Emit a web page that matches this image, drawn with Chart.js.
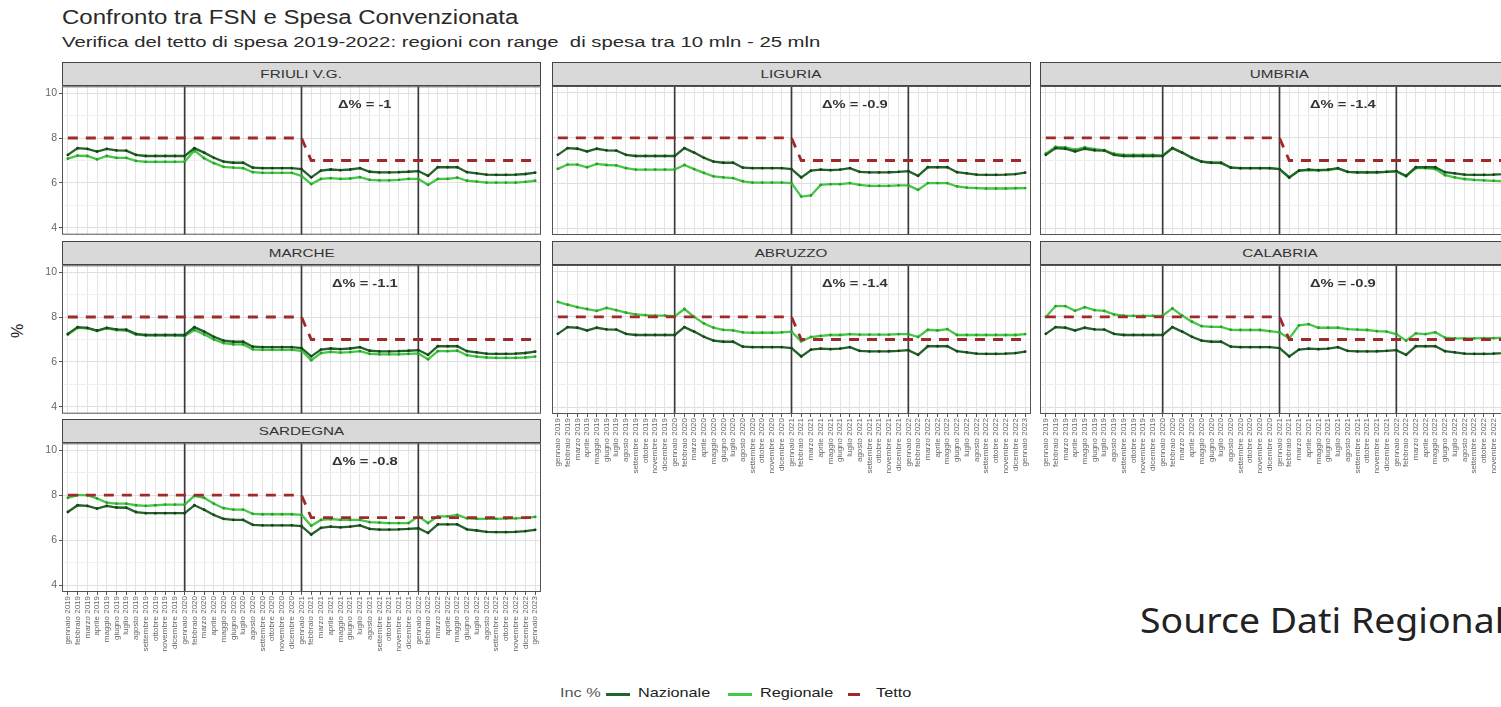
<!DOCTYPE html>
<html>
<head>
<meta charset="utf-8">
<script src="https://cdn.jsdelivr.net/npm/chart.js@4.4.1/dist/chart.umd.min.js"></script>
<style>
  html, body { margin: 0; padding: 0; background: #fff; overflow: hidden; }
  #page { position: relative; width: 1501px; height: 707px; overflow: hidden; font-family: "Liberation Sans", Arial, sans-serif; }
  .wide { display: inline-block; transform-origin: left center; white-space: pre; }
  .title { position: absolute; left: 62px; top: 6px; font-size: 20px; color: #2a2a2a; }
  .title .wide { transform: scaleX(1.2); }
  .subtitle { position: absolute; left: 62px; top: 34px; font-size: 14px; color: #2a2a2a; }
  .subtitle .wide { transform: scaleX(1.45); }
  .strip { position: absolute; height: 24px; background: #d9d9d9; border: 1px solid #444; box-sizing: border-box; text-align: center; font-size: 10.5px; color: #333; line-height: 22px; }
  .strip .wide { transform: scaleX(1.45); transform-origin: center center; }
  canvas { position: absolute; }
  .ylab { position: absolute; left: 11px; top: 322px; font-size: 16px; color: #222; transform: rotate(-90deg); }
  .source { position: absolute; left: 1140px; top: 597px; font-family: "Noto Sans", sans-serif; font-size: 34px; color: #222; white-space: nowrap; transform: scaleX(1.1); transform-origin: left center; }
  .leg { position: absolute; top: 685px; font-size: 13px; color: #222; white-space: nowrap; transform: scaleX(1.25); transform-origin: left center; }
  .sw { position: absolute; height: 3px; }
</style>
</head>
<body>
<div id="page">
  <div class="title"><span class="wide">Confronto tra FSN e Spesa Convenzionata</span></div>
  <div class="subtitle"><span class="wide">Verifica del tetto di spesa 2019-2022: regioni con range  di spesa tra 10 mln - 25 mln</span></div>
  <div class="ylab">%</div>
  <div class="source">Source Dati Regionali</div>
  <span class="leg" style="left:560px;color:#555">Inc %</span>
  <span class="sw" style="left:606px;top:693px;width:24px;background:#24632a"></span>
  <span class="leg" style="left:638px">Nazionale</span>
  <span class="sw" style="left:728px;top:693px;width:24px;background:#45c845"></span>
  <span class="leg" style="left:760px">Regionale</span>
  <span class="sw" style="left:848px;top:693px;width:12px;background:#9e2a2b"></span>
  <span class="leg" style="left:876px">Tetto</span>
</div>

<script>
// ---- data ----
const regions = ['FRIULI V.G.', 'LIGURIA', 'UMBRIA', 'MARCHE', 'ABRUZZO', 'CALABRIA', 'SARDEGNA'];
const deltaLabels = ['Δ% = -1', 'Δ% = -0.9', 'Δ% = -1.4', 'Δ% = -1.1', 'Δ% = -1.4', 'Δ% = -0.9', 'Δ% = -0.8'];

const monthLabels = [
    'gennaio 2019', 'febbraio 2019', 'marzo 2019', 'aprile 2019', 'maggio 2019', 'giugno 2019',
    'luglio 2019', 'agosto 2019', 'settembre 2019', 'ottobre 2019', 'novembre 2019', 'dicembre 2019',
    'gennaio 2020', 'febbraio 2020', 'marzo 2020', 'aprile 2020', 'maggio 2020', 'giugno 2020',
    'luglio 2020', 'agosto 2020', 'settembre 2020', 'ottobre 2020', 'novembre 2020', 'dicembre 2020',
    'gennaio 2021', 'febbraio 2021', 'marzo 2021', 'aprile 2021', 'maggio 2021', 'giugno 2021',
    'luglio 2021', 'agosto 2021', 'settembre 2021', 'ottobre 2021', 'novembre 2021', 'dicembre 2021',
    'gennaio 2022', 'febbraio 2022', 'marzo 2022', 'aprile 2022', 'maggio 2022', 'giugno 2022',
    'luglio 2022', 'agosto 2022', 'settembre 2022', 'ottobre 2022', 'novembre 2022', 'dicembre 2022',
    'gennaio 2023'
];
const yearBreaks = [12, 24, 36];
const yTickValues = [4, 6, 8, 10];

const nazionale = [7.25, 7.55, 7.52, 7.40, 7.52, 7.45, 7.44, 7.25, 7.20, 7.20, 7.20, 7.20,
    7.20, 7.55, 7.35, 7.12, 6.95, 6.90, 6.90, 6.68, 6.66, 6.66, 6.66, 6.66,
    6.62, 6.25, 6.55, 6.60, 6.57, 6.60, 6.66, 6.50, 6.47, 6.47, 6.48, 6.50,
    6.53, 6.32, 6.70, 6.70, 6.70, 6.48, 6.43, 6.37, 6.36, 6.36, 6.37, 6.40,
    6.46];

const tetto = [8, 8, 8, 8, 8, 8, 8, 8, 8, 8, 8, 8,
    8, 8, 8, 8, 8, 8, 8, 8, 8, 8, 8, 8,
    8, 7, 7, 7, 7, 7, 7, 7, 7, 7, 7, 7,
    7, 7, 7, 7, 7, 7, 7, 7, 7, 7, 7, 7,
    7];

const regFriuli = [7.08, 7.22, 7.20, 7.05, 7.20, 7.12, 7.12, 6.98, 6.94, 6.94, 6.94, 6.94,
    6.95, 7.45, 7.10, 6.88, 6.72, 6.68, 6.66, 6.48, 6.45, 6.45, 6.45, 6.45,
    6.32, 5.95, 6.18, 6.22, 6.18, 6.20, 6.26, 6.14, 6.12, 6.12, 6.14, 6.18,
    6.18, 5.92, 6.18, 6.18, 6.24, 6.10, 6.06, 6.02, 6.02, 6.02, 6.02, 6.05,
    6.10];
const regLiguria = [6.63, 6.82, 6.82, 6.70, 6.85, 6.80, 6.78, 6.66, 6.60, 6.60, 6.60, 6.60,
    6.60, 6.80, 6.62, 6.45, 6.30, 6.25, 6.22, 6.08, 6.02, 6.02, 6.02, 6.02,
    6.00, 5.40, 5.45, 5.92, 5.95, 5.95, 6.00, 5.92, 5.88, 5.88, 5.88, 5.90,
    5.90, 5.70, 6.00, 6.00, 6.00, 5.85, 5.80, 5.78, 5.76, 5.76, 5.76, 5.77,
    5.78];
const regUmbria = [7.30, 7.60, 7.58, 7.48, 7.58, 7.50, 7.46, 7.30, 7.25, 7.25, 7.25, 7.25,
    7.22, 7.55, 7.34, 7.12, 6.95, 6.90, 6.88, 6.68, 6.66, 6.66, 6.66, 6.66,
    6.62, 6.25, 6.55, 6.58, 6.56, 6.58, 6.64, 6.50, 6.48, 6.48, 6.48, 6.50,
    6.52, 6.30, 6.66, 6.66, 6.62, 6.35, 6.25, 6.18, 6.14, 6.12, 6.10, 6.08,
    6.08];
const regMarche = [7.22, 7.52, 7.50, 7.38, 7.50, 7.42, 7.40, 7.22, 7.18, 7.18, 7.18, 7.18,
    7.15, 7.42, 7.22, 7.00, 6.84, 6.78, 6.78, 6.56, 6.54, 6.54, 6.54, 6.54,
    6.50, 6.08, 6.40, 6.45, 6.42, 6.44, 6.48, 6.36, 6.34, 6.34, 6.34, 6.36,
    6.38, 6.12, 6.48, 6.48, 6.50, 6.30, 6.24, 6.20, 6.18, 6.18, 6.18, 6.20,
    6.24];
const regAbruzzo = [8.67, 8.54, 8.43, 8.35, 8.27, 8.40, 8.30, 8.19, 8.11, 8.08, 8.06, 8.06,
    8.03, 8.35, 8.00, 7.71, 7.52, 7.43, 7.40, 7.32, 7.30, 7.30, 7.30, 7.32,
    7.35, 6.92, 7.11, 7.16, 7.20, 7.20, 7.24, 7.22, 7.22, 7.22, 7.22, 7.24,
    7.24, 7.11, 7.43, 7.40, 7.46, 7.20, 7.20, 7.20, 7.20, 7.20, 7.20, 7.20,
    7.24];
const regCalabria = [8.00, 8.48, 8.48, 8.27, 8.43, 8.30, 8.27, 8.11, 8.06, 8.05, 8.05, 8.05,
    8.06, 8.38, 8.06, 7.79, 7.59, 7.56, 7.56, 7.43, 7.42, 7.42, 7.42, 7.37,
    7.32, 7.05, 7.63, 7.68, 7.52, 7.52, 7.52, 7.46, 7.44, 7.42, 7.37, 7.35,
    7.24, 6.95, 7.27, 7.24, 7.32, 7.08, 7.05, 7.05, 7.05, 7.06, 7.06, 7.08,
    7.08];
const regSardegna = [7.88, 8.00, 8.00, 7.85, 7.67, 7.62, 7.62, 7.55, 7.52, 7.55, 7.58, 7.58,
    7.58, 7.97, 7.88, 7.62, 7.42, 7.36, 7.36, 7.17, 7.15, 7.15, 7.15, 7.15,
    7.12, 6.64, 6.90, 6.94, 6.90, 6.90, 6.90, 6.80, 6.78, 6.76, 6.76, 6.76,
    7.06, 6.76, 7.06, 7.06, 7.12, 6.97, 6.95, 6.95, 6.95, 6.96, 6.97, 6.99,
    7.03];

const regionale = [regFriuli, regLiguria, regUmbria, regMarche, regAbruzzo, regCalabria, regSardegna];

// ---- layout ----
const colLeft = [62, 552, 1040];
const rowTop = [62, 241, 419];
const plotW = 479, plotH = 149, stripH = 24, pad = 8;

const toPoints = (arr) => arr.map((v, i) => ({ x: i, y: v }));

// year separators, delta label and panel border
const panelDecor = {
    id: 'panelDecor',
    beforeDatasetsDraw(chart) {
        const { ctx, chartArea, scales } = chart;
        ctx.save();
        ctx.strokeStyle = '#3a3a3a';
        ctx.lineWidth = 1.7;
        yearBreaks.forEach(i => {
            const x = scales.x.getPixelForValue(i);
            ctx.beginPath();
            ctx.moveTo(x, chartArea.top);
            ctx.lineTo(x, chartArea.bottom);
            ctx.stroke();
        });
        ctx.restore();
    },
    afterDatasetsDraw(chart, args, opts) {
        const { ctx, chartArea, scales } = chart;
        ctx.save();
        ctx.font = 'bold 10.5px "Liberation Sans", Arial, sans-serif';
        ctx.fillStyle = '#333';
        ctx.textAlign = 'center';
        ctx.textBaseline = 'middle';
        ctx.translate(scales.x.getPixelForValue(30.5), scales.y.getPixelForValue(9.45));
        ctx.scale(1.4, 1);
        ctx.fillText(opts.label, 0, 0);
        ctx.restore();

        ctx.save();
        ctx.strokeStyle = '#555';
        ctx.lineWidth = 1;
        ctx.strokeRect(chartArea.left + 0.5, chartArea.top + 0.5, chartArea.width - 1, chartArea.height - 1);
        ctx.restore();
    }
};

const page = document.getElementById('page');

regions.forEach((name, k) => {
    let col = k % 3;
    let row = Math.floor(k / 3);
    let hasY = col === 0;
    let hasX = k >= 4;
    let yW = hasY ? 34 : 0;
    let xH = hasX ? 62 : 0;
    let plotL = colLeft[col];
    let plotT = rowTop[row] + stripH;

    let strip = document.createElement('div');
    strip.className = 'strip';
    strip.style.left = plotL + 'px';
    strip.style.top = rowTop[row] + 'px';
    strip.style.width = plotW + 'px';
    let label = document.createElement('span');
    label.className = 'wide';
    label.textContent = name;
    strip.appendChild(label);
    page.appendChild(strip);

    let canvas = document.createElement('canvas');
    canvas.width = plotW + yW + 2 * pad;
    canvas.height = plotH + xH + 2 * pad;
    canvas.style.left = (plotL - yW - pad) + 'px';
    canvas.style.top = (plotT - pad) + 'px';
    canvas.style.width = canvas.width + 'px';
    canvas.style.height = canvas.height + 'px';
    page.appendChild(canvas);

    new Chart(canvas.getContext('2d'), {
        type: 'line',
        data: {
            datasets: [
                {
                    label: 'Tetto',
                    data: toPoints(tetto),
                    borderColor: '#9e2a2b',
                    borderWidth: 2.8,
                    borderDash: [10, 8],
                    pointRadius: 0,
                    tension: 0
                },
                {
                    label: 'Nazionale',
                    data: toPoints(nazionale),
                    borderColor: '#24632a',
                    borderWidth: 2.3,
                    pointRadius: 1.4,
                    pointBorderWidth: 0,
                    pointBackgroundColor: '#17401b',
                    tension: 0
                },
                {
                    label: 'Regionale',
                    data: toPoints(regionale[k]),
                    borderColor: '#45c845',
                    borderWidth: 2.3,
                    pointRadius: 1.4,
                    pointBorderWidth: 0,
                    pointBackgroundColor: '#2f9a2f',
                    tension: 0
                }
            ]
        },
        options: {
            responsive: false,
            animation: false,
            layout: { padding: pad },
            plugins: {
                legend: { display: false },
                tooltip: { enabled: false },
                panelDecor: { label: deltaLabels[k] }
            },
            scales: {
                x: {
                    type: 'linear',
                    min: -0.6,
                    max: 48.6,
                    afterFit: (scale) => { scale.height = xH; },
                    border: { display: false },
                    grid: {
                        color: '#e4e4e4',
                        drawTicks: hasX,
                        tickLength: 3,
                        tickColor: '#555'
                    },
                    ticks: {
                        display: hasX,
                        stepSize: 1,
                        autoSkip: false,
                        includeBounds: false,
                        maxRotation: 90,
                        minRotation: 90,
                        padding: 1,
                        color: '#666',
                        font: { size: 8, family: '"Liberation Sans", Arial, sans-serif' },
                        callback: (v) => monthLabels[v] ?? ''
                    }
                },
                y: {
                    min: 3.7,
                    max: 10.3,
                    afterFit: (scale) => { scale.width = yW; },
                    border: { display: false },
                    grid: {
                        color: (c) => yTickValues.includes(c.tick.value) ? '#e0e0e0' : '#f0f0f0',
                        drawTicks: hasY,
                        tickLength: 3,
                        tickColor: (c) => yTickValues.includes(c.tick.value) ? '#555' : 'rgba(0,0,0,0)'
                    },
                    ticks: {
                        display: hasY,
                        stepSize: 1,
                        includeBounds: false,
                        padding: 2,
                        color: '#666',
                        font: { size: 10.5, family: '"Liberation Sans", Arial, sans-serif' },
                        callback: (v) => yTickValues.includes(v) ? String(v) : ''
                    }
                }
            }
        },
        plugins: [panelDecor]
    });
});
</script>
</body>
</html>
